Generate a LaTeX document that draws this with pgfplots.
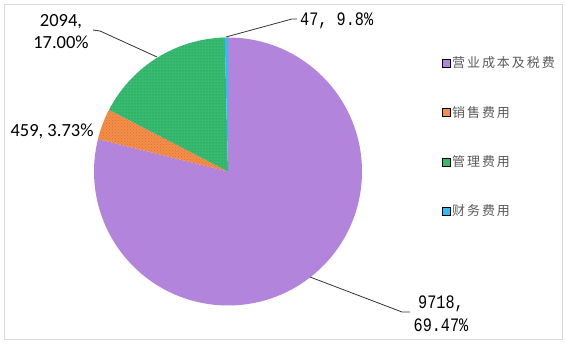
\documentclass[border=0pt]{standalone}
\usepackage{pgfplots}
\pgfplotsset{compat=1.18}
\usepackage{pgfplotstable}
\usepackage{fontspec}
\setmainfont{Carlito}
\newfontfamily\cjk[LetterSpace=15]{Noto Sans CJK SC}
\newfontfamily\simfont[FakeStretch=0.8]{Liberation Mono}
\usetikzlibrary{patterns}

\definecolor{cpurple}{RGB}{179,132,219}
\definecolor{corange}{RGB}{241,143,78}
\definecolor{cgreen}{RGB}{58,185,113}
\definecolor{cblue}{RGB}{50,188,240}
\definecolor{dorange}{RGB}{232,110,30}
\definecolor{dgreen}{RGB}{0,150,70}
\definecolor{frame}{RGB}{217,217,217}
\definecolor{lgray}{RGB}{89,89,89}

\pgfplotstableread{
name value
a 9718
b 459
c 2094
d 47
}\piedata

\newcommand\sector[3]{\fill[#1] (axis cs:228,172.5) -- ++(#2:134pt) arc[start angle=#2,end angle=#3,radius=134pt] -- cycle;}

\begin{document}
\begin{tikzpicture}
\pgfplotstablegetelem{0}{value}\of\piedata \pgfmathsetmacro\va{\pgfplotsretval}
\pgfplotstablegetelem{1}{value}\of\piedata \pgfmathsetmacro\vb{\pgfplotsretval}
\pgfplotstablegetelem{2}{value}\of\piedata \pgfmathsetmacro\vc{\pgfplotsretval}
\pgfplotstablegetelem{3}{value}\of\piedata \pgfmathsetmacro\vd{\pgfplotsretval}
\pgfmathsetmacro\tot{\va+\vb+\vc+\vd}
\pgfmathsetmacro\aA{90-\va/\tot*360}
\pgfmathsetmacro\aB{\aA-\vb/\tot*360}
\pgfmathsetmacro\aC{\aB-\vc/\tot*360}
\begin{axis}[
  hide axis, scale only axis, width=566pt, height=344pt,
  xmin=0, xmax=566, ymin=0, ymax=344, clip=false,
  legend image code/.code={\fill[#1] (0pt,-4pt) rectangle (8pt,4pt);},
  legend style={at={(axis cs:442,289)}, anchor=north west, draw=none, fill=none,
    font=\cjk\fontsize{13}{15}\selectfont, nodes={text=lgray, inner sep=1.5pt}, row sep=34pt,
    inner sep=0pt},
  legend cell align=left,
]
\path[draw=frame, line width=0.8pt] (axis cs:4,5) rectangle (axis cs:562,340);
\path (axis cs:0,0) rectangle (axis cs:566,344);

\sector{cpurple}{90}{\aA}
\sector{corange}{\aA}{\aB}
\sector{pattern=crosshatch dots, pattern color=dorange}{\aA}{\aB}
\sector{cgreen}{\aB}{\aC}
\sector{pattern=dots, pattern color=dgreen}{\aB}{\aC}
\sector{cblue}{\aC}{-270}

\addlegendimage{fill=cpurple}
\addlegendentry{营业成本及税费}
\addlegendimage{fill=corange}
\addlegendentry{销售费用}
\addlegendimage{fill=cgreen}
\addlegendentry{管理费用}
\addlegendimage{fill=cblue}
\addlegendentry{财务费用}

\addplot[forget plot, black!80, line width=0.8pt] coordinates {(226,307) (292,325) (297,325)};
\addplot[forget plot, black!80, line width=0.8pt] coordinates {(93,314) (100,313) (157,287)};
\addplot[forget plot, black!80, line width=0.8pt] coordinates {(310,67) (402,32) (410,32)};

\node[anchor=west, inner sep=0pt, font=\simfont\fontsize{19}{22}\selectfont] at (axis cs:300,323.5) {47, 9.8\%};
\node[align=center, inner sep=0pt, font=\fontsize{18.5}{22}\selectfont] at (axis cs:61,312) {2094,\\17.00\%};
\node[inner sep=0pt, font=\fontsize{18.5}{22}\selectfont] at (axis cs:52,213) {459, 3.73\%};
\node[align=center, inner sep=0pt, font=\simfont\fontsize{19}{23}\selectfont] at (axis cs:441,30.5) {9718,\\69.47\%};
\end{axis}
\end{tikzpicture}
\end{document}
